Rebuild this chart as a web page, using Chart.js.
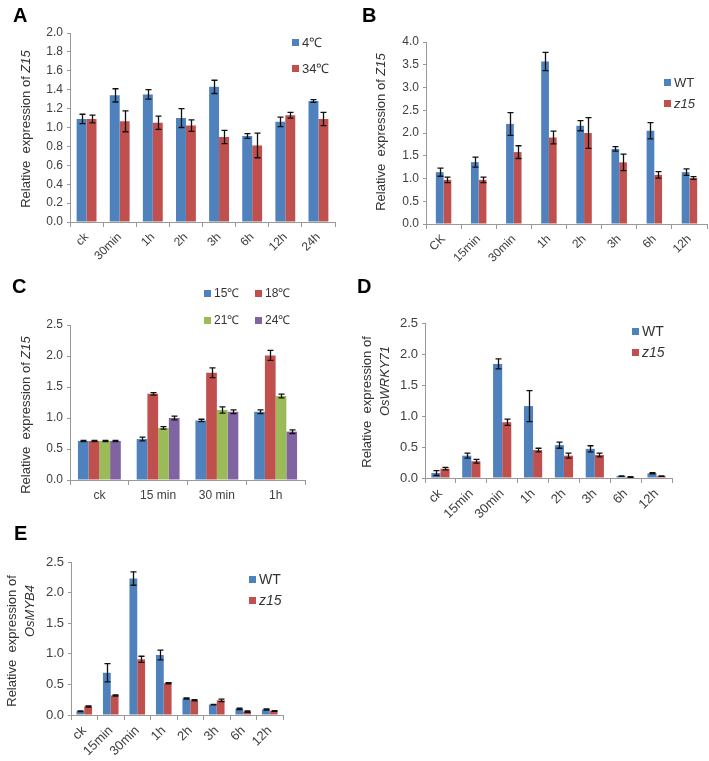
<!DOCTYPE html>
<html>
<head>
<meta charset="utf-8">
<script src="https://cdn.jsdelivr.net/npm/chart.js@4.4.0/dist/chart.umd.min.js"></script>
<style>
body { margin: 0; background: #fff; }
#wrap { position: relative; width: 709px; height: 761px; overflow: hidden; font-family: "Liberation Sans", Arial, sans-serif; color: #333; }
canvas { position: absolute; }
.tag { position: absolute; font-weight: bold; font-size: 20px; color: #000; line-height: 1; }
.ytitle { position: absolute; transform: translate(-50%, -50%) rotate(-90deg); white-space: nowrap; font-size: 13px; color: #333; line-height: 1; }
.leg { position: absolute; display: flex; align-items: center; font-size: 12px; line-height: 1; white-space: nowrap; color: #333; }
.leg i { display: inline-block; width: 7px; height: 7px; margin-right: 3px; }
</style>
</head>
<body>
<div id="wrap">
  <canvas id="cA" width="345" height="268" style="left:0;top:0"></canvas>
  <canvas id="cB" width="354" height="268" style="left:355px;top:0"></canvas>
  <canvas id="cC" width="345" height="250" style="left:0;top:260px"></canvas>
  <canvas id="cD" width="354" height="268" style="left:355px;top:260px"></canvas>
  <canvas id="cE" width="345" height="251" style="left:0;top:510px"></canvas>

  <div class="tag" style="left:13px;top:5px">A</div>
  <div class="tag" style="left:362px;top:5px">B</div>
  <div class="tag" style="left:12px;top:276px">C</div>
  <div class="tag" style="left:357px;top:276px">D</div>
  <div class="tag" style="left:14px;top:523px">E</div>

  <div class="ytitle" style="left:25px;top:129px">Relative&nbsp; expression of <i>Z15</i></div>
  <div class="ytitle" style="left:380px;top:132px">Relative&nbsp; expression of <i>Z15</i></div>
  <div class="ytitle" style="left:25px;top:415px">Relative&nbsp; expression of <i>Z15</i></div>
  <div class="ytitle" style="left:366px;top:402px">Relative&nbsp; expression of</div>
  <div class="ytitle" style="left:384px;top:381px"><i>OsWRKY71</i></div>
  <div class="ytitle" style="left:11px;top:641px">Relative&nbsp; expression of</div>
  <div class="ytitle" style="left:29px;top:611px"><i>OsMYB4</i></div>
</div>
<script>
// panel A: Z15 at 4 / 34 degrees
const aLabels = ['ck', '30min', '1h', '2h', '3h', '6h', '12h', '24h'];
const aCold = [1.09, 1.34, 1.35, 1.10, 1.43, 0.91, 1.06, 1.28];
const aColdErr = [0.05, 0.07, 0.05, 0.10, 0.07, 0.025, 0.05, 0.015];
const aHot = [1.09, 1.065, 1.05, 1.02, 0.90, 0.81, 1.13, 1.09];
const aHotErr = [0.04, 0.11, 0.07, 0.06, 0.07, 0.13, 0.03, 0.07];

// panel B: Z15 in WT / z15
const bLabels = ['CK', '15min', '30min', '1h', '2h', '3h', '6h', '12h'];
const bWT = [1.14, 1.36, 2.20, 3.57, 2.16, 1.65, 2.05, 1.14];
const bWTErr = [0.09, 0.11, 0.25, 0.20, 0.11, 0.05, 0.18, 0.07];
const bZ15 = [0.97, 0.97, 1.58, 1.90, 2.00, 1.355, 1.08, 1.01];
const bZ15Err = [0.06, 0.06, 0.14, 0.14, 0.34, 0.18, 0.07, 0.03];

// panel C: Z15 at four temperatures
const cLabels = ['ck', '15 min', '30 min', '1h'];
const c15 = [0.63, 0.66, 0.96, 1.10];
const c15Err = [0.01, 0.03, 0.02, 0.03];
const c18 = [0.63, 1.39, 1.73, 2.01];
const c18Err = [0.01, 0.02, 0.08, 0.08];
const c21 = [0.63, 0.84, 1.13, 1.355];
const c21Err = [0.01, 0.02, 0.05, 0.03];
const c24 = [0.63, 1.00, 1.10, 0.78];
const c24Err = [0.01, 0.03, 0.03, 0.03];

// panel D: OsWRKY71
const dLabels = ['ck', '15min', '30min', '1h', '2h', '3h', '6h', '12h'];
const dWT = [0.08, 0.36, 1.84, 1.16, 0.53, 0.47, 0.03, 0.075];
const dWTErr = [0.04, 0.04, 0.08, 0.25, 0.05, 0.05, 0.005, 0.01];
const dZ15 = [0.15, 0.27, 0.90, 0.45, 0.36, 0.37, 0.015, 0.03];
const dZ15Err = [0.02, 0.03, 0.05, 0.03, 0.04, 0.03, 0.005, 0.005];

// panel E: OsMYB4
const eLabels = ['ck', '15min', '30min', '1h', '2h', '3h', '6h', '12h'];
const eWT = [0.06, 0.69, 2.23, 0.98, 0.27, 0.17, 0.10, 0.09];
const eWTErr = [0.005, 0.15, 0.11, 0.08, 0.01, 0.005, 0.01, 0.01];
const eZ15 = [0.14, 0.32, 0.91, 0.52, 0.24, 0.24, 0.055, 0.065];
const eZ15Err = [0.01, 0.01, 0.05, 0.01, 0.01, 0.02, 0.01, 0.005];

const BLUE = '#4F81BD', RED = '#C0504D', GREEN = '#9BBB59', PURPLE = '#8064A2';
const AXIS = '#999999', TICK = '#404040';
const FONT = 'Liberation Sans';

// excel style error bars, drawn through the y scale
const errorBars = {
    id: 'errorBars',
    afterDatasetsDraw(chart) {
        const ctx = chart.ctx, y = chart.scales.y;
        ctx.save();
        ctx.strokeStyle = '#111';
        ctx.lineWidth = 1.3;
        chart.data.datasets.forEach((ds, i) => {
            chart.getDatasetMeta(i).data.forEach((bar, j) => {
                const v = ds.data[j], e = ds.errors[j];
                const top = y.getPixelForValue(v + e), bot = y.getPixelForValue(v - e);
                const x = Math.round(bar.x) + 0.5, w = 3;
                ctx.beginPath();
                ctx.moveTo(x, top); ctx.lineTo(x, bot);
                ctx.moveTo(x - w, top); ctx.lineTo(x + w, top);
                ctx.moveTo(x - w, bot); ctx.lineTo(x + w, bot);
                ctx.stroke();
            });
        });
        ctx.restore();
    }
};

function ds(label, data, errors, color) {
    return { label: label, data: data, errors: errors, backgroundColor: color, borderWidth: 0 };
}

function makeChart(id, p) {
    return new Chart(document.getElementById(id), {
        type: 'bar',
        data: { labels: p.labels, datasets: p.sets },
        plugins: [errorBars],
        options: {
            responsive: false,
            animation: false,
            devicePixelRatio: 1,
            layout: { padding: { top: p.padTop, right: p.padRight, left: 0, bottom: 0 } },
            datasets: { bar: { categoryPercentage: p.cat, barPercentage: 1 } },
            plugins: { legend: { display: false }, tooltip: { enabled: false } },
            scales: {
                x: {
                    afterFit: s => { s.height = p.xH; },
                    grid: { offset: true, drawOnChartArea: false, drawTicks: true, tickLength: 5, color: AXIS },
                    border: { color: AXIS },
                    ticks: {
                        color: TICK, padding: 3, autoSkip: false,
                        minRotation: p.rot, maxRotation: p.rot,
                        font: { family: FONT, size: p.fs }
                    }
                },
                y: {
                    min: 0, max: p.max,
                    afterFit: s => { s.width = p.yW; },
                    grid: { drawOnChartArea: false, drawTicks: true, tickLength: 3, color: AXIS },
                    border: { color: AXIS },
                    ticks: {
                        stepSize: p.step, color: TICK, padding: 4,
                        font: { family: FONT, size: p.fs },
                        callback: v => Number(v).toFixed(1)
                    }
                }
            }
        }
    });
}

function legend(chart, spots, fs) {
    const wrap = document.getElementById('wrap');
    const box = chart.canvas;
    chart.data.datasets.forEach((d, i) => {
        const el = document.createElement('div');
        el.className = 'leg';
        el.style.left = (box.offsetLeft + spots[i][0]) + 'px';
        el.style.top = (box.offsetTop + spots[i][1] - 7) + 'px';
        el.style.height = '14px';
        el.style.fontSize = fs + 'px';
        const name = /z15/.test(d.label) ? '<em>' + d.label + '</em>' : d.label;
        el.innerHTML = '<i style="background:' + d.backgroundColor + '"></i>' + name;
        wrap.appendChild(el);
    });
}

const chA = makeChart('cA', {
    labels: aLabels,
    sets: [ds('4\u2103', aCold, aColdErr, BLUE), ds('34\u2103', aHot, aHotErr, RED)],
    max: 2, step: 0.2, yW: 70, xH: 46, padTop: 33, padRight: 10, cat: 0.6, rot: 45, fs: 12
});
legend(chA, [[292, 42], [292, 68]], 13);

const chB = makeChart('cB', {
    labels: bLabels,
    sets: [ds('WT', bWT, bWTErr, BLUE), ds('z15', bZ15, bZ15Err, RED)],
    max: 4, step: 0.5, yW: 71, xH: 44, padTop: 42, padRight: 2, cat: 0.44, rot: 45, fs: 12
});
legend(chB, [[309, 82], [309, 103]], 13);

const chC = makeChart('cC', {
    labels: cLabels,
    sets: [ds('15\u2103', c15, c15Err, BLUE), ds('18\u2103', c18, c18Err, RED),
           ds('21\u2103', c21, c21Err, GREEN), ds('24\u2103', c24, c24Err, PURPLE)],
    max: 2.5, step: 0.5, yW: 70, xH: 30, padTop: 65, padRight: 40, cat: 0.73, rot: 0, fs: 12
});
legend(chC, [[204, 33], [255, 33], [204, 60], [255, 60]], 12);

const chD = makeChart('cD', {
    labels: dLabels,
    sets: [ds('WT', dWT, dWTErr, BLUE), ds('z15', dZ15, dZ15Err, RED)],
    max: 2.5, step: 0.5, yW: 70, xH: 50, padTop: 63, padRight: 37, cat: 0.59, rot: 45, fs: 13
});
legend(chD, [[277, 71], [277, 92]], 14);

const chE = makeChart('cE', {
    labels: eLabels,
    sets: [ds('WT', eWT, eWTErr, BLUE), ds('z15', eZ15, eZ15Err, RED)],
    max: 2.5, step: 0.5, yW: 71, xH: 46, padTop: 52, padRight: 62, cat: 0.59, rot: 45, fs: 13
});
legend(chE, [[249, 69], [249, 90]], 14);
</script>
</body>
</html>
